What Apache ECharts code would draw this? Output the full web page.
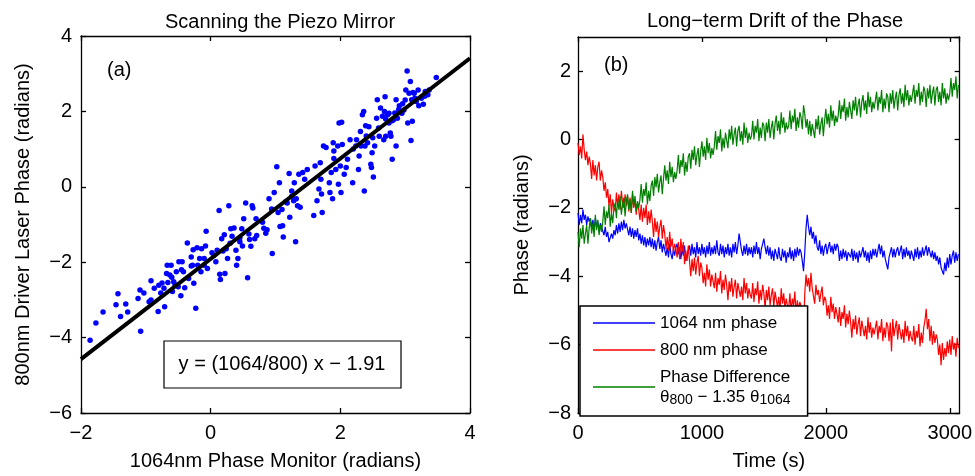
<!DOCTYPE html>
<html>
<head>
<meta charset="utf-8">
<script src="https://cdn.jsdelivr.net/npm/echarts@6/dist/echarts.min.js"></script>
<style>
  html, body { margin: 0; padding: 0; background: #fff; }
  #chart { width: 975px; height: 476px; }
</style>
</head>
<body>
<div id="chart"></div>
<script>
// (a) piezo scan: 1064nm monitor phase vs 800nm driver phase
const piezoX = [
  -1.86, -1.77, -1.66, -1.46, -1.43, -1.39, -1.31, -1.28, -1.12, -1.08, -1.09, -1.03, -0.92, -0.92, -0.87, -0.81,
  -0.80, -0.77, -0.72, -0.71, -0.67, -0.66, -0.63, -0.61, -0.59, -0.57, -0.53, -0.50, -0.49, -0.46, -0.44, -0.42,
  -0.40, -0.36, -0.34, -0.30, -0.28, -0.27, -0.26, -0.23, -0.21, -0.20, -0.17, -0.15, -0.14, -0.10, -0.08, -0.07,
  -0.05, 0.05, 0.08, 0.10, 0.13, 0.14, 0.15, 0.17, 0.19, 0.21, 0.22, 0.24, 0.26, 0.28, 0.31, 0.33,
  0.36, 0.39, 0.40, 0.42, 0.45, 0.48, 0.49, 0.51, 0.54, 0.57, 0.59, 0.62, 0.64, 0.65, 0.68, 0.71,
  0.80, 0.82, 0.85, 0.87, 0.90, 0.94, 0.95, 0.98, 1.02, 1.04, 1.06, 1.07, 1.11, 1.12, 1.16, 1.18,
  1.21, 1.22, 1.25, 1.28, 1.29, 1.31, 1.32, 1.34, 1.36, 1.38, 1.42, 1.49, 1.59, 1.61, 1.64, 1.67,
  1.69, 1.71, 1.72, 1.74, 1.78, 1.83, 1.84, 1.86, 1.88, 1.89, 1.90, 1.93, 1.96, 1.97, 1.98, 2.00,
  2.01, 2.02, 2.03, 2.06, 2.09, 2.11, 2.15, 2.19, 2.24, 2.25, 2.28, 2.29, 2.31, 2.32, 2.34, 2.36,
  2.37, 2.38, 2.39, 2.42, 2.44, 2.47, 2.48, 2.49, 2.51, 2.53, 2.56, 2.57, 2.59, 2.60, 2.62, 2.65,
  2.67, 2.68, 2.69, 2.70, 2.73, 2.75, 2.77, 2.78, 2.80, 2.82, 2.84, 2.86, 2.86, 2.88, 2.91, 2.93,
  2.96, 2.98, 3.01, 3.03, 3.04, 3.06, 3.08, 3.09, 3.10, 3.11, 3.14, 3.17, 3.20, 3.21, 3.25, 3.28,
  3.31, 3.37, 3.35, 3.48,
  -0.60, -0.55, -0.45, 2.70, 2.75, 2.80, 2.90, 3.00, 3.15, 0.30, 1.25, -0.75, 1.90, 2.20, -0.10, 0.60,
  1.70, 2.50, 3.30, -0.30, -0.68, 0.02, 0.45, 1.45, 2.40, 2.95, 3.12, -0.95, 0.70, 1.10
];
const piezoY = [
  -4.07, -3.61, -3.32, -3.13, -2.84, -3.44, -3.11, -3.32, -2.96, -3.83, -2.74, -2.82, -2.49, -3.00, -2.69, -3.31,
  -2.61, -2.82, -2.69, -3.18, -2.08, -2.54, -2.34, -2.08, -2.78, -2.52, -2.25, -2.65, -1.99, -2.89, -1.99, -2.25,
  -2.68, -1.49, -2.43, -1.86, -2.08, -1.67, -2.56, -3.22, -1.62, -2.08, -1.90, -2.25, -1.64, -2.08, -1.57, -1.18,
  -2.17, -1.82, -1.99, -1.68, -0.63, -2.32, -2.46, -1.38, -1.70, -1.27, -2.30, -1.64, -1.90, -0.50, -1.11, -1.31,
  -1.09, -1.68, -2.08, -1.90, -1.46, -1.11, -1.57, -0.85, -0.43, -2.41, -1.25, -1.58, -0.50, -0.56, -1.38, -1.29,
  -0.94, -1.10, -1.23, -1.14, -0.32, -0.59, -1.77, -0.15, 0.53, -0.68, 0.11, -1.05, -1.03, -1.33, -0.39, -0.43,
  0.35, -0.81, -0.11, -0.37, 0.11, -1.46, -0.32, -0.50, 0.33, -0.54, 0.38, 0.46, -0.76, 0.55, -0.37, -0.06,
  0.64, -0.19, -0.68, 1.08, 1.04, 0.11, -0.15, 0.38, -0.32, 1.17, 0.95, 0.46, 1.08, 0.07, 1.69, 0.55,
  -0.15, 1.71, 1.12, 0.33, 0.51, 0.73, 1.25, 0.11, 1.08, 1.25, 0.46, 0.82, 1.47, 1.08, 1.91, 2.00,
  -0.11, 1.08, 1.62, 1.17, 1.59, 0.60, 0.51, 0.90, 0.26, 1.08, 1.82, 2.31, 1.56, 1.34, 2.09, 1.87,
  1.25, 2.00, 2.39, 1.34, 1.91, 1.69, 1.43, 1.34, 0.73, 1.78, 1.96, 2.31, 1.08, 1.82, 2.15, 1.97,
  2.20, 2.04, 2.57, 3.07, 1.69, 2.48, 2.79, 1.23, 2.31, 1.74, 2.48, 2.26, 2.57, 2.15, 2.35, 2.19,
  2.53, 2.57, 2.44, 2.90,
  -2.40, -2.60, -2.20, 1.80, 1.95, 1.75, 2.05, 2.30, 2.35, -1.50, -0.25, -2.55, 0.75, 1.00, -1.90, -1.40,
  0.20, 1.30, 2.40, -2.10, -2.30, -1.75, -1.35, 0.20, 1.35, 1.95, 2.50, -3.05, -0.85, -0.60
];
// fit line y = (1064/800) x - 1.91, end points at the axis limits
const fitX = [-2, 4];
const fitY = [-4.57, 3.41];

// (b) long-term drift, one sample every 10 s (rows of 100 s)
const timeStep = 10;
const phase1064 = [
  -2.15, -2.5, -2.2, -2.45, -2.05, -2.35, -2.2, -2.5, -2.25, -2.4,
  -2.3, -2.6, -2.35, -2.65, -2.3, -2.55, -2.4, -2.7, -2.45, -2.55,
  -2.55, -2.8, -2.55, -2.85, -2.7, -3.0, -3.05, -2.75, -2.9, -2.65,
  -2.8, -2.5, -2.75, -2.45, -2.7, -2.4, -2.65, -2.35, -2.6, -2.45,
  -2.5, -2.8, -2.55, -2.85, -2.6, -2.9, -2.65, -2.85, -2.6, -2.95,
  -2.75, -3.05, -2.8, -3.1, -2.85, -3.15, -2.9, -3.1, -2.85, -3.15,
  -2.9, -3.2, -2.95, -3.25, -3.0, -2.85, -3.2, -2.95, -3.3, -3.05,
  -3.1, -3.4, -3.15, -3.45, -3.05, -3.35, -3.5, -3.2, -3.4, -3.15,
  -3.05, -3.35, -3.15, -3.5, -3.2, -3.4, -3.1, -3.55, -3.6, -3.25,
  -3.1, -3.4, -3.05, -3.35, -3.15, -3.45, -3.0, -3.35, -3.15, -3.4,
  -3.05, -3.35, -3.15, -3.45, -3.1, -3.35, -3.0, -3.4, -3.15, -3.35,
  -3.1, -3.35, -2.95, -3.3, -3.4, -3.05, -3.35, -3.1, -3.45, -3.15,
  -3.35, -3.05, -3.4, -3.15, -3.45, -3.05, -3.3, -3.0, -3.35, -3.1,
  -2.75, -3.0, -3.25, -3.4, -3.1, -3.35, -3.05, -3.4, -3.15, -3.35,
  -3.15, -3.45, -3.1, -3.35, -3.0, -3.35, -3.15, -3.5, -3.2, -3.05,
  -2.9, -3.15, -3.35, -3.1, -3.4, -3.15, -3.5, -3.25, -3.55, -3.2,
  -3.25, -3.5, -3.15, -3.45, -3.55, -3.2, -3.45, -3.25, -3.6, -3.3,
  -3.45, -3.15, -3.5, -3.25, -3.55, -3.2, -3.45, -3.15, -3.4, -3.2,
  -3.3, -3.55, -3.85, -3.3, -2.6, -2.2, -2.55, -2.8, -2.55, -2.9,
  -2.7, -3.05, -2.8, -3.15, -3.25, -2.95, -3.35, -3.1, -3.4, -3.15,
  -3.05, -3.35, -3.15, -3.0, -3.3, -3.1, -3.35, -3.05, -3.25, -3.05,
  -3.15, -3.55, -3.25, -3.5, -3.2, -3.45, -3.25, -3.55, -3.3, -3.25,
  -3.45, -3.2, -3.55, -3.25, -3.5, -3.3, -3.6, -3.25, -3.45, -3.3,
  -3.15, -3.45, -3.25, -3.55, -3.3, -3.6, -3.25, -3.5, -3.2, -3.4,
  -3.2, -3.45, -3.25, -3.05, -3.35, -3.1, -3.45, -3.25, -3.5, -3.55,
  -3.8, -3.45, -3.3, -3.15, -3.45, -3.2, -3.45, -3.25, -3.15, -3.4,
  -3.25, -3.1, -3.5, -3.2, -3.45, -3.15, -3.4, -3.25, -3.5, -3.25,
  -3.25, -3.55, -3.2, -3.45, -3.15, -3.5, -3.25, -3.45, -3.15, -3.4,
  -3.25, -3.1, -3.4, -3.15, -3.3, -3.45, -3.25, -3.5, -3.3, -3.55,
  -3.4, -3.65, -3.45, -3.75, -3.7, -3.95, -3.6, -3.85, -3.45, -3.75,
  -3.35, -3.65, -3.4, -3.25, -3.6, -3.3, -3.55, -3.35
];
const phase800 = [
  -0.1, -0.45, -0.2, -0.55, 0.15, -0.3, -0.6, -0.35, -0.75, -0.5,
  -0.7, -1.15, -0.6, -1.05, -0.75, -1.2, -0.8, -0.65, -1.2, -0.9,
  -1.1, -1.5, -1.25, -1.7, -1.45, -1.95, -1.6, -2.15, -1.75, -2.0,
  -2.1, -1.55, -1.95, -1.6, -2.05, -1.5, -1.85, -2.0, -1.6, -1.95,
  -1.65, -2.1, -1.7, -2.15, -1.6, -2.0, -1.75, -2.2, -1.85, -2.05,
  -2.35, -1.9, -2.4, -2.0, -2.3, -1.9, -2.5, -2.1, -2.45, -2.05,
  -2.4, -2.85, -2.3, -2.7, -2.4, -2.85, -2.55, -2.35, -2.9, -2.5,
  -2.75, -3.2, -2.85, -3.25, -2.7, -3.15, -2.9, -3.3, -3.05, -3.2,
  -3.45, -3.0, -3.5, -2.9, -3.3, -3.0, -3.65, -3.25, -3.55, -3.1,
  -3.55, -4.0, -3.5, -3.85, -3.45, -3.95, -3.6, -3.4, -4.0, -3.6,
  -3.75, -4.2, -3.9, -4.3, -3.65, -4.1, -3.8, -4.3, -3.95, -4.15,
  -4.35, -3.9, -4.45, -4.05, -4.25, -3.85, -4.5, -4.1, -4.4, -3.95,
  -4.25, -4.7, -4.15, -4.45, -4.05, -4.6, -4.3, -4.1, -4.65, -4.2,
  -4.15, -4.6, -4.3, -4.7, -4.05, -4.5, -4.2, -4.65, -4.35, -4.55,
  -4.65, -4.2, -4.75, -4.35, -4.55, -4.15, -4.8, -4.4, -4.7, -4.25,
  -4.5, -4.95, -4.4, -4.7, -4.3, -4.85, -4.55, -4.35, -4.9, -4.45,
  -4.45, -4.9, -4.6, -5.0, -4.35, -4.8, -4.5, -4.95, -4.65, -4.85,
  -4.95, -4.5, -5.05, -4.65, -4.85, -4.45, -5.1, -4.7, -5.0, -4.75,
  -4.7, -5.0, -5.75, -4.5, -3.95, -4.3, -4.05, -4.45, -3.9, -4.35,
  -4.35, -4.8, -4.25, -4.55, -4.4, -4.75, -4.5, -4.3, -4.85, -4.6,
  -4.7, -5.15, -4.85, -5.25, -4.6, -5.05, -4.8, -5.25, -4.9, -5.1,
  -5.35, -4.9, -5.45, -5.05, -5.25, -4.85, -5.5, -5.1, -5.4, -5.0,
  -5.35, -5.8, -5.25, -5.55, -5.15, -5.7, -5.4, -5.2, -5.75, -5.3,
  -5.3, -5.75, -5.45, -5.85, -5.2, -5.65, -5.35, -5.8, -5.5, -5.7,
  -5.75, -5.3, -5.85, -5.45, -5.65, -5.25, -5.9, -5.5, -5.8, -5.35,
  -5.45, -5.9, -5.35, -6.2, -5.25, -5.75, -5.5, -5.3, -5.85, -5.4,
  -5.4, -5.85, -5.55, -5.95, -5.3, -5.75, -5.45, -5.9, -5.6, -5.8,
  -5.9, -5.45, -6.0, -5.6, -5.8, -5.4, -6.05, -5.65, -5.95, -5.5,
  -5.3, -4.95, -5.55, -5.25, -5.9, -5.45, -6.0, -5.6, -5.95, -5.7,
  -5.85, -6.3, -6.0, -6.6, -5.95, -6.45, -6.1, -6.35, -5.9, -6.25,
  -5.85, -6.3, -5.75, -6.15, -5.95, -6.35, -5.8, -6.1
];
const phaseDiff = [
  -2.7, -3.15, -2.6, -2.9, -2.5, -3.05, -2.75, -2.5, -3.05, -2.6,
  -2.3, -2.75, -2.45, -2.85, -2.2, -2.65, -2.35, -2.8, -2.5, -2.7,
  -2.4, -1.95, -2.5, -2.1, -2.3, -1.9, -2.55, -2.15, -2.45, -2.0,
  -1.85, -2.3, -1.75, -2.05, -1.65, -2.2, -1.9, -1.7, -2.25, -1.8,
  -1.6, -2.05, -1.75, -2.15, -1.5, -1.95, -1.65, -2.1, -1.8, -2.0,
  -1.75, -1.3, -1.85, -1.45, -1.65, -1.25, -1.9, -1.5, -1.8, -1.35,
  -1.2, -1.65, -1.1, -1.4, -1.0, -1.55, -1.25, -1.05, -1.6, -1.15,
  -0.75, -1.2, -0.9, -1.3, -0.65, -1.1, -0.8, -1.25, -0.95, -1.15,
  -0.9, -0.45, -1.0, -0.6, -0.8, -0.4, -1.05, -0.65, -0.95, -0.5,
  -0.4, -0.85, -0.3, -0.6, -0.2, -0.75, -0.45, -0.25, -0.8, -0.35,
  -0.05, -0.5, -0.2, -0.6, 0.05, -0.4, -0.1, -0.55, -0.25, -0.45,
  -0.2, 0.25, -0.3, 0.1, -0.1, 0.3, -0.35, 0.05, -0.25, 0.2,
  0.2, -0.25, 0.3, 0.0, 0.4, -0.15, 0.15, 0.35, -0.2, 0.25,
  0.4, -0.05, 0.25, -0.15, 0.5, 0.05, 0.35, -0.1, 0.2, 0.0,
  0.1, 0.55, 0.0, 0.4, 0.2, 0.6, -0.05, 0.35, 0.05, 0.5,
  0.4, -0.05, 0.5, 0.2, 0.6, 0.05, 0.35, 0.55, 0.0, 0.45,
  0.7, 0.25, 0.55, 0.15, 0.8, 0.35, 0.65, 0.2, 0.5, 0.3,
  0.4, 0.85, 0.3, 0.7, 0.5, 0.9, 0.25, 0.65, 0.35, 0.8,
  0.65, 0.3, 1.0, 0.75, 0.35, 0.6, 0.15, 0.55, 0.1, 0.45,
  0.5, 0.05, 0.6, 0.3, 0.7, 0.15, 0.45, 0.65, 0.1, 0.55,
  0.9, 0.45, 0.75, 0.35, 1.0, 0.55, 0.85, 0.4, 0.7, 0.5,
  0.7, 1.15, 0.6, 1.0, 0.8, 1.2, 0.55, 0.95, 0.65, 1.1,
  1.05, 0.6, 1.15, 0.85, 1.25, 0.7, 1.0, 1.2, 0.65, 1.1,
  1.3, 0.85, 1.15, 0.75, 1.4, 0.95, 1.25, 0.8, 1.1, 0.9,
  0.95, 1.4, 0.85, 1.25, 1.05, 1.45, 0.8, 1.2, 0.9, 1.35,
  1.25, 0.8, 1.35, 1.05, 1.45, 0.9, 1.2, 1.4, 0.85, 1.3,
  1.5, 1.05, 1.35, 0.95, 1.6, 1.15, 1.45, 1.0, 1.3, 1.1,
  1.15, 1.6, 1.05, 1.45, 1.25, 1.65, 1.0, 1.4, 1.1, 1.55,
  1.4, 0.95, 1.5, 1.2, 1.6, 1.05, 1.35, 1.55, 1.0, 1.45,
  1.55, 1.1, 1.4, 1.0, 1.65, 1.2, 1.5, 1.05, 1.35, 1.15,
  1.35, 1.8, 1.25, 1.65, 1.45, 1.85, 1.2, 1.6
];

const FONT = '"Liberation Sans", Arial, sans-serif';
const minus = v => String(v).replace('-', '\u2212');

const pairs = (xs, ys) => xs.map((x, i) => [x, ys[i]]);
const timed = ys => ys.map((y, i) => [i * timeStep, y]);

const labelStyle = { color: '#000', fontFamily: FONT, fontSize: 20, formatter: minus };
const nameStyle = { color: '#000', fontFamily: FONT, fontSize: 20 };
const lineStyle = { color: '#000', width: 1.3 };

function axisPair(gridIndex, min, max, interval, isX, name, nameGap, labelMargin, showMax) {
  const main = {
    type: 'value', gridIndex, min, max, interval,
    position: isX ? 'bottom' : 'left',
    name, nameLocation: 'middle', nameGap, nameTextStyle: nameStyle,
    axisLine: { show: true, onZero: false, lineStyle },
    axisTick: { show: true, inside: true, length: 5, lineStyle },
    axisLabel: Object.assign({ margin: labelMargin, showMaxLabel: showMax }, labelStyle),
    splitLine: { show: false }
  };
  const mirror = {
    type: 'value', gridIndex, min, max, interval,
    position: isX ? 'top' : 'right',
    axisLine: { show: true, onZero: false, lineStyle },
    axisTick: { show: true, inside: true, length: 5, lineStyle },
    axisLabel: { show: false },
    splitLine: { show: false }
  };
  return [main, mirror];
}

const chart = echarts.init(document.getElementById('chart'), null, { renderer: 'canvas' });

chart.setOption({
  animation: false,
  backgroundColor: '#fff',
  title: [
    { text: 'Scanning the Piezo Mirror', left: 275, top: 7, textAlign: 'center',
      textStyle: { fontFamily: FONT, fontSize: 20, fontWeight: 'normal', color: '#000' } },
    { text: 'Long\u2212term Drift of the Phase', left: 770, top: 6, textAlign: 'center',
      textStyle: { fontFamily: FONT, fontSize: 20, fontWeight: 'normal', color: '#000' } }
  ],
  grid: [
    { left: 81, top: 36, width: 389, height: 380, containLabel: false },
    { left: 578, top: 37, width: 382, height: 379, containLabel: false }
  ],
  xAxis: [
    ...axisPair(0, -2, 4, 2, true, '1064nm Phase Monitor (radians)', 38, 10, true),
    ...axisPair(1, 0, 3080, 1000, true, 'Time (s)', 38, 10, false)
  ],
  yAxis: [
    ...axisPair(0, -6, 4, 2, false, '800nm Driver Laser Phase (radians)', 48, 9, true),
    ...axisPair(1, -8, 3, 2, false, 'Phase (radians)', 46, 7, false)
  ],
  legend: {
    data: ['1064 nm phase', '800 nm phase', 'Phase Difference'],
    orient: 'vertical',
    left: 580, top: 306,
    backgroundColor: '#fff',
    borderColor: '#000', borderWidth: 1.5, borderRadius: 0,
    padding: [7, 17, 9, 13],
    itemGap: 7,
    itemWidth: 62, itemHeight: 1.5,
    icon: 'rect',
    selectedMode: false,
    z: 10,
    textStyle: {
      fontFamily: FONT, fontSize: 17, color: '#000', lineHeight: 20,
      rich: {
        n: { fontFamily: FONT, fontSize: 17, color: '#000', lineHeight: 20 },
        s: { fontFamily: FONT, fontSize: 14, color: '#000', lineHeight: 20, verticalAlign: 'bottom', padding: [11, 0, 0, 0] }
      }
    },
    formatter: name => name === 'Phase Difference'
      ? '{n|Phase Difference}\n{n|\u03b8}{s|800}{n| \u2212 1.35 \u03b8}{s|1064}'
      : name
  },
  graphic: [
    { type: 'text', left: 107, top: 60, z: 5,
      style: { text: '(a)', fontFamily: FONT, fontSize: 20, fill: '#000' } },
    { type: 'text', left: 604, top: 55, z: 5,
      style: { text: '(b)', fontFamily: FONT, fontSize: 20, fill: '#000' } },
    { type: 'rect', shape: { x: 164, y: 341, width: 237, height: 47 }, z: 5,
      style: { fill: '#fff', stroke: '#000', lineWidth: 1.2 } },
    { type: 'text', x: 282, y: 364, z: 6,
      style: { text: 'y = (1064/800) x \u2212 1.91', fontFamily: FONT, fontSize: 20, fill: '#000',
        textAlign: 'center', textVerticalAlign: 'middle' } }
  ],
  series: [
    {
      name: 'scan', type: 'scatter', xAxisIndex: 0, yAxisIndex: 0,
      data: pairs(piezoX, piezoY), symbolSize: 5.5,
      itemStyle: { color: '#0000ff', opacity: 1 }, z: 2
    },
    {
      name: 'fit', type: 'line', xAxisIndex: 0, yAxisIndex: 0,
      data: pairs(fitX, fitY), showSymbol: false,
      lineStyle: { color: '#000', width: 4 }, z: 3
    },
    {
      name: '1064 nm phase', type: 'line', xAxisIndex: 2, yAxisIndex: 2,
      data: timed(phase1064), showSymbol: false,
      lineStyle: { color: '#0000ff', width: 1.2 }, itemStyle: { color: '#0000ff' }
    },
    {
      name: '800 nm phase', type: 'line', xAxisIndex: 2, yAxisIndex: 2,
      data: timed(phase800), showSymbol: false,
      lineStyle: { color: '#ff0000', width: 1.2 }, itemStyle: { color: '#ff0000' }
    },
    {
      name: 'Phase Difference', type: 'line', xAxisIndex: 2, yAxisIndex: 2,
      data: timed(phaseDiff), showSymbol: false,
      lineStyle: { color: '#008000', width: 1.2 }, itemStyle: { color: '#008000' }
    }
  ]
});
</script>
</body>
</html>
